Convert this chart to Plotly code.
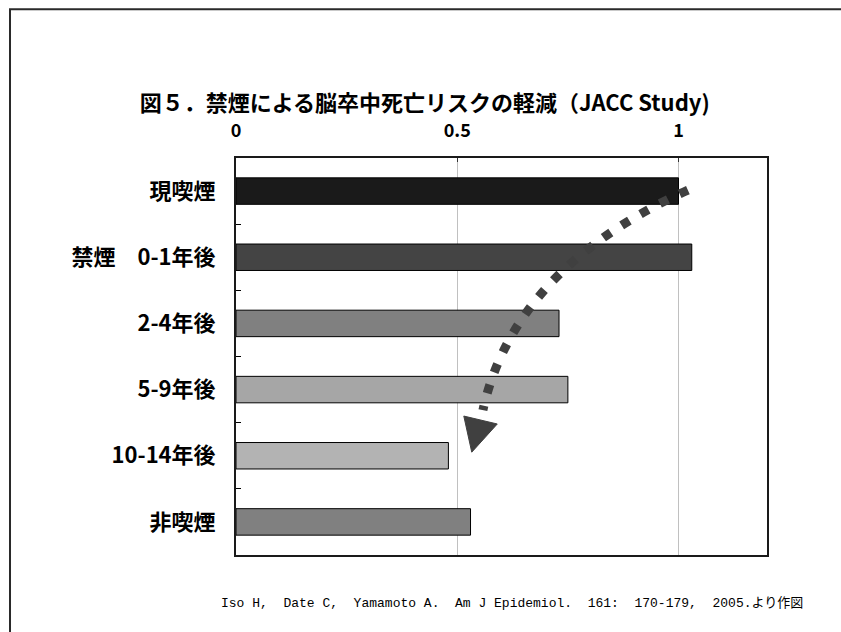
import plotly.graph_objects as go

# Relative risk of stroke death by smoking status
categories = ["現喫煙", "禁煙　0-1年後", "2-4年後", "5-9年後", "10-14年後", "非喫煙"]
risk = [1.00, 1.03, 0.73, 0.75, 0.48, 0.53]
bar_colors = ["#1a1a1a", "#444444", "#808080", "#a6a6a6", "#b3b3b3", "#808080"]

x_tickvals = [0, 0.5, 1]
x_ticktext = ["0", "0.5", "1"]

title_text = "図５．禁煙による脳卒中死亡リスクの軽減（JACC Study)"
source_text = "Iso H,  Date C,  Yamamoto A.  Am J Epidemiol.  161:  170-179,  2005.より作図"

FONT = "Noto Sans CJK JP"
MONO = "Liberation Mono, Noto Sans CJK JP"

fig = go.Figure(
    go.Bar(
        x=risk,
        y=categories,
        orientation="h",
        marker=dict(color=bar_colors, line=dict(color="#000000", width=1)),
        hoverinfo="x+y",
    )
)

# Downward-trend arrow: dotted curve plus a filled triangular head (paper coords)
arrow_color = "#404040"
arrow_path = "M 0.851,0.919 Q 0.524,0.723 0.465,0.365"
head_path = "M 0.429,0.350 L 0.492,0.330 L 0.444,0.259 Z"

shapes = [
    dict(type="path", xref="paper", yref="paper", path=arrow_path,
         line=dict(color=arrow_color, width=9, dash="9px,13px")),
    dict(type="path", xref="paper", yref="paper", path=head_path,
         fillcolor=arrow_color, line=dict(color=arrow_color, width=1)),
    # outer frame around the whole figure
    dict(type="rect", xref="paper", yref="paper",
         x0=-0.4256, x1=1.3, y0=-0.4, y1=1.375,
         line=dict(color="#2a2a2a", width=2), layer="below"),
]

fig.update_layout(
    width=841,
    height=632,
    margin=dict(l=236, r=74, t=158, b=77),
    paper_bgcolor="white",
    plot_bgcolor="white",
    bargap=0.6,
    showlegend=False,
    font=dict(family=FONT, color="#000000"),
    title=dict(
        text=title_text,
        x=0.505, xref="container",
        y=1 - 103 / 632, yref="container",
        xanchor="center", yanchor="middle",
        font=dict(family=FONT, size=22, color="#000000", weight="bold"),
    ),
    shapes=shapes,
    annotations=[
        dict(
            text=source_text,
            xref="paper", yref="paper",
            x=0.52, y=-0.121,
            xanchor="center", yanchor="middle",
            showarrow=False,
            font=dict(family=MONO, size=13, color="#000000"),
        )
    ],
)

fig.update_xaxes(
    side="top",
    range=[0, 1.2],
    tickvals=x_tickvals,
    ticktext=x_ticktext,
    tickfont=dict(family=FONT, size=18, weight="bold"),
    ticks="inside",
    ticklen=4,
    tickcolor="#333333",
    showgrid=True,
    gridcolor="#c0c0c0",
    gridwidth=1,
    showline=True,
    linecolor="#1a1a1a",
    linewidth=2,
    mirror=True,
    zeroline=False,
    ticklabelstandoff=12,
    fixedrange=True,
)

fig.update_yaxes(
    autorange="reversed",
    tickson="boundaries",
    ticks="inside",
    ticklen=5,
    tickcolor="#000000",
    tickfont=dict(family=FONT, size=22, weight="bold"),
    showline=True,
    linecolor="#1a1a1a",
    linewidth=2,
    mirror=True,
    showgrid=False,
    ticklabelstandoff=14,
    fixedrange=True,
)

fig.write_html("out.html")
